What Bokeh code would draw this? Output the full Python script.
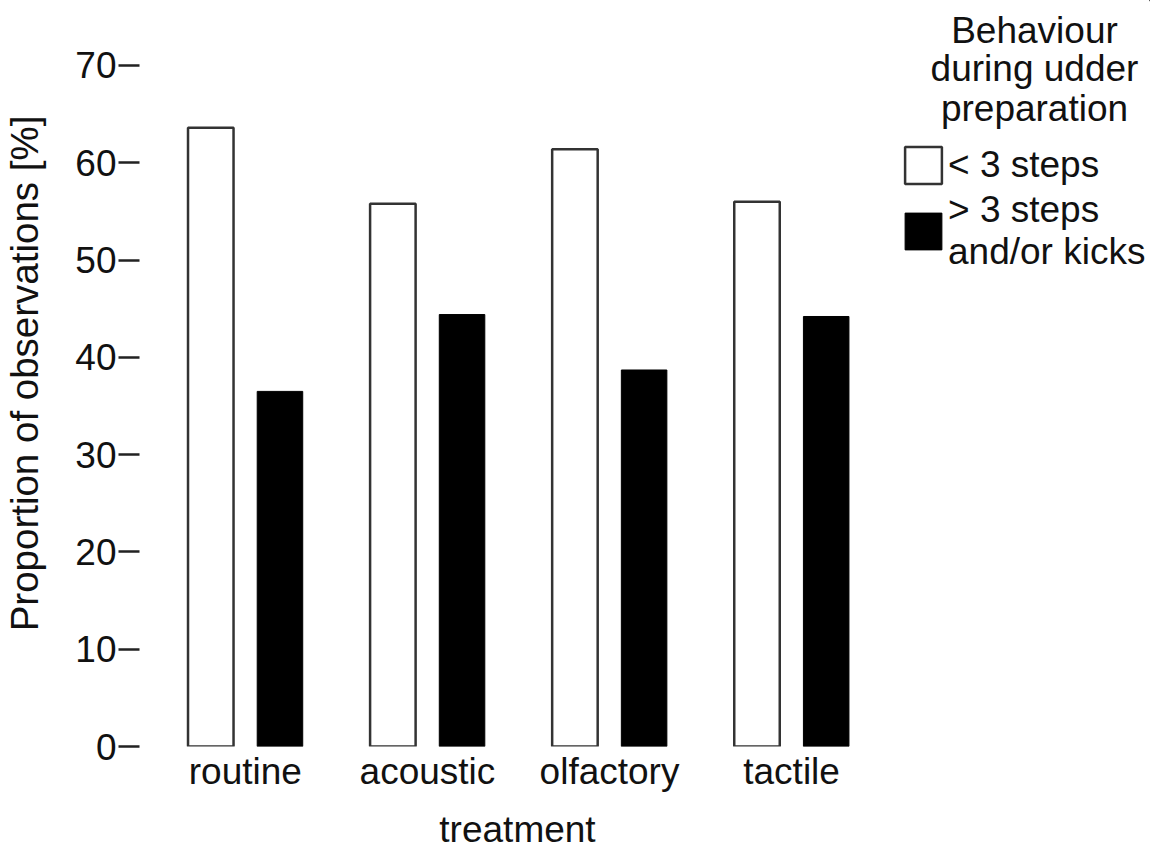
from bokeh.plotting import figure
from bokeh.layouts import row
from bokeh.models import (Range1d, FixedTicker, Legend, LegendItem, Label,
                          ColumnDataSource)
from bokeh.embed import file_html
from bokeh.resources import INLINE

categories = ["routine", "acoustic", "olfactory", "tactile"]
less3 = [63.6, 55.8, 61.4, 56.0]
more3 = [36.5, 44.4, 38.7, 44.2]
y_ticks = [0, 10, 20, 30, 40, 50, 60, 70]
legend_title = ["Behaviour", "during udder", "preparation"]
series_labels = ["< 3 steps", "> 3 steps\nand/or kicks"]
x_title = "treatment"
y_title = "Proportion of observations [%]"

FONT = "Liberation Sans"
FS = "37px"
TC = "#111111"
H = 857
FRAME_H = 746

idx = list(range(len(categories)))
src = ColumnDataSource(dict(
    x_w=[i - 0.19 for i in idx], x_b=[i + 0.19 for i in idx],
    w=less3, b=more3))

WHITE = dict(fill_color="white", line_color="#333333", line_width=2.5)
BLACK = dict(fill_color="black", line_color="black", line_width=1)

p = figure(width=895, height=H, output_backend="svg", toolbar_location=None,
           x_range=Range1d(-0.5815, 3.5707), y_range=Range1d(0, 76.68),
           min_border_left=131, min_border_right=0, min_border_top=0,
           min_border_bottom=H - FRAME_H)
p.outline_line_color = None
p.grid.visible = False

p.vbar(x="x_w", top="w", width=0.25, source=src, **WHITE)
p.vbar(x="x_b", top="b", width=0.25, source=src, **BLACK)

ya = p.yaxis[0]
ya.ticker = FixedTicker(ticks=y_ticks)
ya.axis_line_color = None
ya.major_tick_out = 21
ya.major_tick_in = 0
ya.major_tick_line_width = 2.5
ya.major_tick_line_color = "#222222"
ya.minor_tick_line_color = None
ya.major_label_standoff = 2
ya.major_label_text_font = FONT
ya.major_label_text_font_size = FS
ya.major_label_text_color = TC
ya.axis_label = y_title
ya.axis_label_text_font = FONT
ya.axis_label_text_font_size = "38.5px"
ya.axis_label_text_font_style = "normal"
ya.axis_label_text_color = TC
ya.axis_label_standoff = 26

xa = p.xaxis[0]
xa.ticker = FixedTicker(ticks=idx)
xa.major_label_overrides = {i: c for i, c in zip(idx, categories)}
xa.axis_line_color = None
xa.major_tick_out = 0
xa.major_tick_in = 0
xa.major_tick_line_color = None
xa.minor_tick_line_color = None
xa.major_label_standoff = 4
xa.major_label_text_font = FONT
xa.major_label_text_font_size = FS
xa.major_label_text_color = TC
xa.axis_label = x_title
xa.axis_label_text_font = FONT
xa.axis_label_text_font_size = FS
xa.axis_label_text_font_style = "normal"
xa.axis_label_text_color = TC
xa.axis_label_standoff = 14

# legend panel (separate plot to the right of the chart frame).
# Its ranges lie far away from the data, so its own copies of the bars stay
# out of view and only serve as legend keys.
LW = 255
lg = figure(width=LW, height=H, output_backend="svg", toolbar_location=None,
            x_range=Range1d(-5000 - LW, -5000), y_range=Range1d(-6000, -5000),
            x_axis_location=None, y_axis_location=None,
            min_border_left=0, min_border_right=0, min_border_top=0,
            min_border_bottom=0)
lg.outline_line_color = None
lg.grid.visible = False
lw_r = lg.vbar(x="x_w", top="w", width=0.25, source=src, **WHITE)
lb_r = lg.vbar(x="x_b", top="b", width=0.25, source=src, **BLACK)

for txt, yy in zip(legend_title, [716, 678, 638]):
    lg.add_layout(Label(x=139, y=yy, x_units="screen", y_units="screen", text=txt,
                        text_align="center", text_baseline="alphabetic",
                        text_font=FONT, text_font_size=FS, text_color=TC))

legend = Legend(items=[LegendItem(label=series_labels[0], renderers=[lw_r]),
                       LegendItem(label=series_labels[1], renderers=[lb_r])],
                location=(5, 473), orientation="vertical",
                glyph_width=46, glyph_height=46, label_standoff=2,
                padding=0, spacing=1, margin=0,
                border_line_color=None, background_fill_alpha=0,
                label_text_font=FONT, label_text_font_size=FS,
                label_text_color=TC, label_text_line_height=1.03)
lg.add_layout(legend, "center")

layout = row(p, lg)
open("out.html", "w").write(file_html(layout, INLINE))
